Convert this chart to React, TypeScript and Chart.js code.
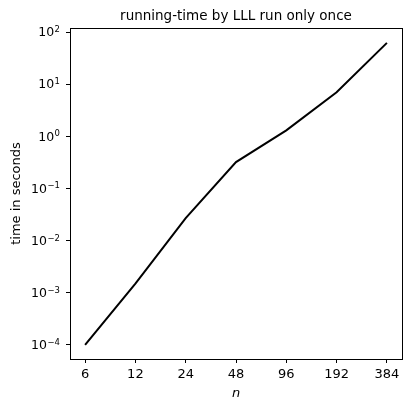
import React, { useEffect, useRef } from "react";
import { Chart, registerables } from "chart.js";

Chart.register(...registerables);

const categories = ["6", "12", "24", "48", "96", "192", "384"];
const times = [1.0e-4, 1.5e-3, 2.7e-2, 0.32, 1.3, 7.0, 62];
const yTickValues = [1e-4, 1e-3, 1e-2, 1e-1, 1, 10, 100];
const yTickExponents = ["−4", "−3", "−2", "−1", "0", "1", "2"];
const titleText = "running-time by LLL run only once";
const xTitle = "n";
const yTitle = "time in seconds";

const FONT = "'DejaVu Sans', sans-serif";

export default function App() {
  const ref = useRef<HTMLCanvasElement | null>(null);
  useEffect(() => {
    if (!ref.current) return;
    const framePlugin = {
      id: "frame",
      afterDraw(chart: any) {
        const { ctx, chartArea } = chart;
        ctx.save();
        ctx.strokeStyle = "#000";
        ctx.lineWidth = 1;
        ctx.strokeRect(
          Math.round(chartArea.left) + 0.5,
          Math.round(chartArea.top) + 0.5,
          Math.round(chartArea.right - chartArea.left),
          Math.round(chartArea.bottom - chartArea.top)
        );
        ctx.fillStyle = "#000";
        ctx.font = "13.5px " + FONT;
        ctx.textAlign = "center";
        ctx.textBaseline = "alphabetic";
        ctx.fillText(titleText, (chartArea.left + chartArea.right) / 2, 20);
        // y tick labels as 10 with superscript exponent
        const ys = chart.scales.y;
        const rightEdge = chartArea.left - 10;
        yTickValues.forEach((v, i) => {
          const y = ys.getPixelForValue(v);
          ctx.font = "8.5px " + FONT;
          ctx.textAlign = "right";
          const exp = yTickExponents[i];
          const ew = ctx.measureText(exp).width;
          ctx.fillText(exp, rightEdge, y);
          ctx.font = "12.5px " + FONT;
          ctx.fillText("10", rightEdge - ew - 0.5, y + 4.3);
        });
        ctx.restore();
      },
    };
    const chart = new Chart(ref.current, {
      type: "line",
      data: {
        datasets: [
          {
            data: categories.map((c, i) => ({ x: i, y: times[i] })),
            borderColor: "#000",
            borderWidth: 2,
            pointRadius: 0,
            fill: false,
            tension: 0,
          },
        ],
      },
      options: {
        animation: false,
        responsive: false,
        layout: { padding: { top: 28, right: 10, left: 0, bottom: 0 } },
        plugins: { legend: { display: false }, tooltip: { enabled: false } },
        scales: {
          x: {
            type: "linear",
            min: -0.3,
            max: categories.length - 1 + 0.3,
            afterFit(scale: any) {
              scale.height = 52;
            },
            afterBuildTicks(scale: any) {
              scale.ticks = categories.map((_, i) => ({ value: i }));
            },
            ticks: {
              color: "#000",
              font: { family: FONT, size: 13 },
              padding: 4,
              maxRotation: 0,
              autoSkip: false,
              callback: (v: any) => categories[v as number] ?? "",
            },
            grid: {
              drawOnChartArea: false,
              drawTicks: true,
              tickLength: 4,
              tickColor: "#000",
            },
            border: { display: true, color: "#000" },
            title: {
              display: true,
              text: xTitle,
              color: "#000",
              font: { family: FONT, size: 13, style: "italic" },
              padding: { top: 0, bottom: 10 },
            },
          },
          y: {
            type: "logarithmic",
            min: Math.pow(10, -4.27),
            max: Math.pow(10, 2.077),
            afterFit(scale: any) {
              scale.width = 70;
            },
            afterBuildTicks(scale: any) {
              scale.ticks = yTickValues.map((v) => ({ value: v }));
            },
            ticks: {
              display: false,
              autoSkip: false,
            },
            grid: {
              drawOnChartArea: false,
              drawTicks: true,
              tickLength: 4,
              tickColor: "#000",
            },
            border: { display: true, color: "#000" },
            title: {
              display: true,
              text: yTitle,
              color: "#000",
              font: { family: FONT, size: 13 },
              padding: { top: 9, bottom: 0 },
            },
          },
        },
      },
      plugins: [framePlugin],
    });
    return () => chart.destroy();
  }, []);
  return (
    <div style={{ position: "fixed", left: 0, top: 0, width: 412, height: 411, background: "#fff" }}>
      <canvas ref={ref} width={412} height={411} style={{ display: "block" }} />
    </div>
  );
}
